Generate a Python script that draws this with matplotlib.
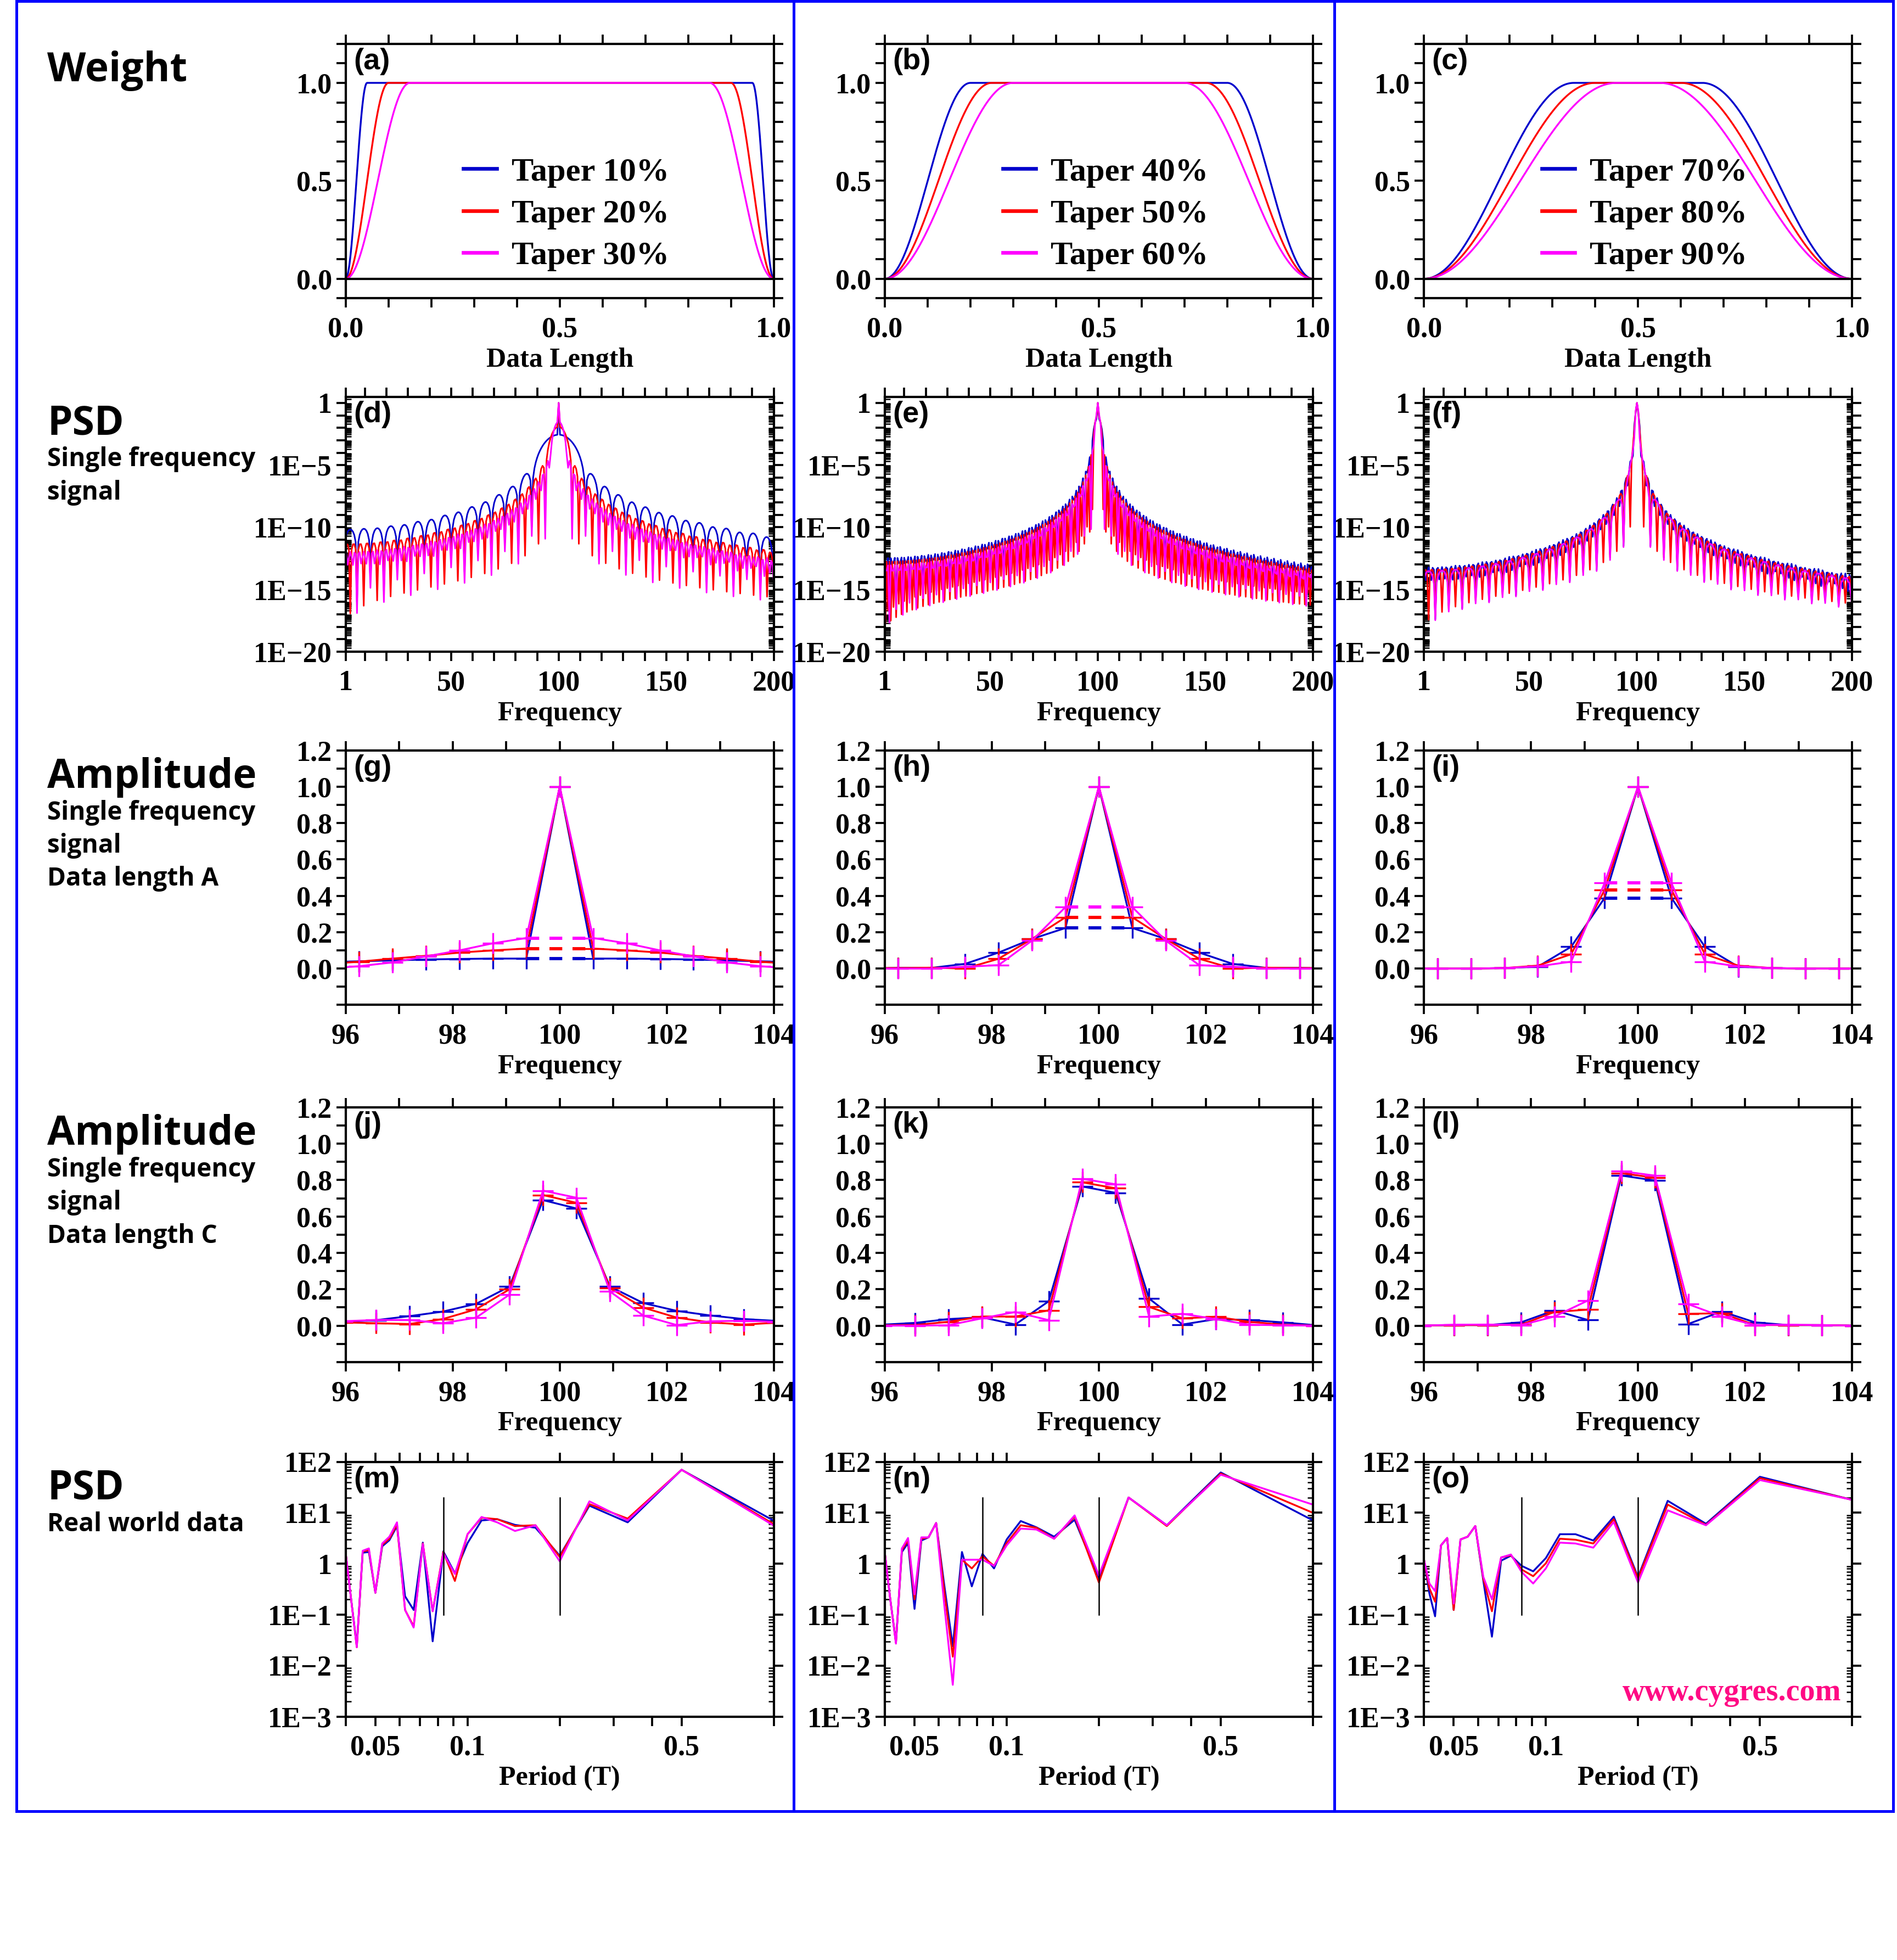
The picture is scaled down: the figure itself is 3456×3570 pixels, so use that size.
import numpy as np
import matplotlib.pyplot as plt
from matplotlib.lines import Line2D
from matplotlib.ticker import FixedLocator, NullLocator

plt.rcParams['font.family'] = ['Liberation Serif', 'DejaVu Serif']
plt.rcParams['font.weight'] = 'bold'
plt.rcParams['axes.labelweight'] = 'bold'
plt.rcParams['axes.linewidth'] = 1.0

# taper fractions per column and line colours
tapers = [[0.1, 0.2, 0.3], [0.4, 0.5, 0.6], [0.7, 0.8, 0.9]]
colors = ['#0000cc', '#ff0000', '#ff00ff']
panel_tags = ['abc', 'def', 'ghi', 'jkl', 'mno']

# single frequency test signal used for the PSD row
signal_freq = 100.0
sample_rate = 4000.0
record_len = 1.6

# amplitude spectra, data length A (bins of 0.625)
freq_a = [95.625, 96.25, 96.875, 97.5, 98.125, 98.75, 99.375, 100.0,
          100.625, 101.25, 101.875, 102.5, 103.125, 103.75, 104.375]
amp_g = [
    [0.035, 0.04, 0.045, 0.05, 0.053, 0.055, 0.055, 1.0, 0.055, 0.055, 0.053, 0.05, 0.045, 0.04, 0.035],
    [0.025, 0.038, 0.055, 0.07, 0.088, 0.10, 0.11, 1.0, 0.11, 0.10, 0.088, 0.07, 0.055, 0.038, 0.025],
    [0.0, 0.013, 0.034, 0.067, 0.10, 0.139, 0.168, 1.0, 0.168, 0.139, 0.10, 0.067, 0.034, 0.013, 0.0],
]
amp_h = [
    [0.0, 0.004, 0.004, 0.026, 0.088, 0.163, 0.223, 1.0, 0.223, 0.163, 0.088, 0.026, 0.004, 0.004, 0.0],
    [0.003, 0.003, 0.005, 0.0, 0.054, 0.163, 0.282, 1.0, 0.282, 0.163, 0.054, 0.0, 0.005, 0.003, 0.003],
    [0.0, 0.0, 0.0, 0.01, 0.019, 0.154, 0.338, 1.0, 0.338, 0.154, 0.019, 0.01, 0.0, 0.0, 0.0],
]
amp_i = [
    [0.0, 0.0, 0.0, 0.003, 0.01, 0.12, 0.388, 1.0, 0.388, 0.12, 0.01, 0.003, 0.0, 0.0, 0.0],
    [0.0, 0.0, 0.0, 0.003, 0.016, 0.079, 0.432, 1.0, 0.432, 0.079, 0.016, 0.003, 0.0, 0.0, 0.0],
    [0.0, 0.0, 0.0, 0.003, 0.012, 0.038, 0.47, 1.0, 0.47, 0.038, 0.012, 0.003, 0.0, 0.0, 0.0],
]
# level of the bins beside the peak (dashed)
side_g = [0.055, 0.11, 0.168]
side_h = [0.223, 0.282, 0.338]
side_i = [0.388, 0.432, 0.47]

# amplitude spectra, data length C
freq_c = [95.9375, 96.5625, 97.1875, 97.8125, 98.4375, 99.0625, 99.6875,
          100.3125, 100.9375, 101.5625, 102.1875, 102.8125, 103.4375, 104.0625]
amp_j = [
    [0.02, 0.03, 0.052, 0.077, 0.12, 0.215, 0.69, 0.644, 0.215, 0.124, 0.081, 0.056, 0.036, 0.026],
    [0.018, 0.013, 0.009, 0.036, 0.09, 0.2, 0.718, 0.675, 0.206, 0.099, 0.044, 0.018, 0.006, 0.016],
    [0.024, 0.031, 0.031, 0.013, 0.044, 0.171, 0.742, 0.703, 0.188, 0.055, 0.003, 0.024, 0.027, 0.021],
]
amp_k = [
    [0.005, 0.015, 0.036, 0.046, 0.006, 0.134, 0.765, 0.73, 0.149, 0.006, 0.036, 0.031, 0.018, 0.002],
    [0.002, 0.003, 0.021, 0.05, 0.05, 0.084, 0.788, 0.755, 0.103, 0.04, 0.049, 0.021, 0.005, 0.0],
    [0.0, 0.0, 0.002, 0.04, 0.075, 0.03, 0.807, 0.777, 0.05, 0.065, 0.036, 0.005, 0.002, 0.0],
]
amp_l = [
    [0.0, 0.003, 0.003, 0.018, 0.084, 0.031, 0.825, 0.798, 0.009, 0.078, 0.018, 0.003, 0.003, 0.0],
    [0.0, 0.003, 0.003, 0.005, 0.075, 0.088, 0.838, 0.813, 0.065, 0.068, 0.003, 0.003, 0.003, 0.0],
    [0.0, 0.005, 0.006, 0.003, 0.05, 0.138, 0.849, 0.825, 0.118, 0.05, 0.003, 0.005, 0.003, 0.0],
]

# real world data: harmonic number -> period 1/k
harmonic = [25, 24, 23, 22, 21, 20, 19, 18, 17, 16, 15, 14, 13,
            12, 11, 10, 9, 8, 7, 6, 5, 4, 3, 2, 1]
psd_m = [
    [1.6, 0.2, 0.025, 1.65, 1.7, 0.27, 2.2, 2.9, 5.5, 0.23, 0.124, 2.6, 0.03, 1.75, 0.65, 2.55, 7.1, 7.5, 5.8, 5.1, 1.44, 13.8, 6.5, 70, 7.0],
    [1.6, 0.2, 0.023, 1.75, 1.85, 0.27, 2.35, 3.1, 5.9, 0.124, 0.059, 2.5, 0.117, 1.7, 0.46, 3.8, 8.0, 7.5, 5.5, 5.7, 1.36, 14.8, 7.7, 70, 6.0],
    [1.6, 0.2, 0.023, 1.8, 2.0, 0.27, 2.5, 3.4, 6.5, 0.124, 0.056, 2.45, 0.117, 1.6, 0.63, 3.8, 8.3, 6.5, 4.4, 5.7, 1.12, 16.8, 7.1, 70, 5.6],
]
psd_n = [
    [1.6, 0.2, 0.029, 1.7, 2.55, 0.13, 2.86, 3.3, 6.3, 0.39, 0.024, 1.7, 0.36, 1.56, 0.81, 3.0, 6.9, 5.2, 3.4, 7.3, 0.52, 20, 5.7, 62, 7.1],
    [1.6, 0.2, 0.028, 1.85, 2.9, 0.2, 3.1, 3.3, 6.3, 0.3, 0.015, 1.2, 0.81, 1.4, 0.91, 2.55, 5.7, 5.1, 3.1, 8.4, 0.43, 20, 5.5, 59, 10],
    [1.6, 0.2, 0.027, 2.0, 3.2, 0.25, 3.3, 3.3, 6.3, 0.16, 0.0042, 1.2, 1.2, 1.2, 0.91, 2.3, 4.9, 4.7, 3.1, 8.9, 0.59, 20, 5.7, 56, 14.5],
]
psd_o = [
    [1.2, 0.26, 0.093, 2.3, 3.2, 0.124, 3.0, 3.4, 5.5, 0.46, 0.037, 1.15, 1.44, 0.91, 0.71, 1.29, 3.8, 3.8, 2.86, 8.4, 0.55, 17.2, 6.1, 51, 18],
    [1.2, 0.33, 0.18, 2.3, 3.2, 0.124, 3.0, 3.4, 5.5, 0.5, 0.117, 1.33, 1.47, 0.77, 0.57, 1.02, 3.1, 2.96, 2.5, 7.5, 0.52, 14.5, 5.8, 48, 18],
    [1.2, 0.41, 0.29, 2.3, 3.2, 0.165, 3.0, 3.4, 5.5, 0.55, 0.2, 1.33, 1.52, 0.69, 0.41, 0.81, 2.6, 2.5, 2.07, 6.6, 0.43, 11.2, 5.7, 44, 18],
]
marker_harmonics = [12, 5]
marker_range = [0.1, 20]

row_titles = [
    ['Weight'],
    ['PSD', 'Single frequency', 'signal'],
    ['Amplitude', 'Single frequency', 'signal', 'Data length A'],
    ['Amplitude', 'Single frequency', 'signal', 'Data length C'],
    ['PSD', 'Real world data'],
]


def tukey(n, alpha):
    x = np.linspace(0, 1, n)
    w = np.ones(n)
    edge = alpha / 2
    lo = x < edge
    hi = x > 1 - edge
    w[lo] = 0.5 * (1 - np.cos(np.pi * x[lo] / edge))
    w[hi] = 0.5 * (1 - np.cos(np.pi * (1 - x[hi]) / edge))
    return w


def base_style(ax):
    ax.tick_params(which='major', direction='out', length=4, width=0.9,
                   top=True, right=True, labelsize=12.5)
    ax.tick_params(axis='x', pad=4)
    ax.tick_params(axis='y', pad=2)


def set_ticks(ax, axis, ticks, labelled, fmt):
    labels = [fmt(v) if any(np.isclose(v, u, rtol=1e-6, atol=0) for u in labelled) else ''
              for v in ticks]
    if axis == 'x':
        ax.set_xticks(ticks, labels)
    else:
        ax.set_yticks(ticks, labels)


def log_label(v):
    e = int(round(np.log10(v)))
    if e == 0:
        return '1'
    return '1E' + str(e).replace('-', '\u2212')


def log_minor(ax, lo, hi):
    minor = [m * 10.0 ** e for e in range(lo, hi) for m in range(2, 10)]
    ax.yaxis.set_minor_locator(FixedLocator(minor))
    ax.tick_params(axis='y', which='minor', direction='in', length=2.5,
                   width=0.6, left=True, right=True)


# figure layout (display-scale pixels of a 1520 x 1570 canvas)
W, H = 1520.0, 1570.0
col_left = [277, 709, 1141]
row_top = [35, 318, 601, 887, 1171]
ax_w, ax_h = 343, 204

fig = plt.figure(figsize=(11.52, 11.9), dpi=300)

n = int(sample_rate * record_len)
t = np.arange(n) / sample_rate
sig = np.sin(2 * np.pi * signal_freq * t)
freqs = np.fft.rfftfreq(n, 1 / sample_rate)
keep = (freqs > 0) & (freqs <= 200.5)
xw = np.linspace(0, 1, 800)

amp_a_sets = [amp_g, amp_h, amp_i]
side_sets = [side_g, side_h, side_i]
amp_c_sets = [amp_j, amp_k, amp_l]
psd_sets = [psd_m, psd_n, psd_o]
period = 1.0 / np.array(harmonic, dtype=float)

for r in range(5):
    for c in range(3):
        ax = fig.add_axes([col_left[c] / W, 1 - (row_top[r] + ax_h) / H, ax_w / W, ax_h / H])
        base_style(ax)
        if r == 0:
            handles = []
            for a, col in zip(tapers[c], colors):
                ax.plot(xw, tukey(len(xw), a), color=col, lw=0.8)
                handles.append(Line2D([], [], color=col, lw=1.6))
            ax.axhline(0, color='black', lw=1.0)
            ax.set_xlim(0, 1)
            ax.set_ylim(-0.1, 1.2)
            set_ticks(ax, 'x', np.round(np.arange(0, 1.01, 0.1), 2), [0, 0.5, 1], lambda v: f'{v:.1f}')
            set_ticks(ax, 'y', np.round(np.arange(-0.1, 1.21, 0.1), 2), [0, 0.5, 1], lambda v: f'{v:.1f}')
            ax.set_xlabel('Data Length', fontsize=12, labelpad=2)
            ax.legend(handles, [f'Taper {round(a * 100)}%' for a in tapers[c]],
                      loc='center left', bbox_to_anchor=(0.275, 0.33), frameon=False,
                      fontsize=14.5, handlelength=1.0, handletextpad=0.45,
                      labelspacing=0.35, borderaxespad=0, borderpad=0)
        elif r == 1:
            for a, col in zip(tapers[c], colors):
                spec = np.abs(np.fft.rfft(sig * tukey(n, a))) ** 2
                spec = spec / spec.max()
                ax.plot(freqs[keep], spec[keep], color=col, lw=0.7)
            ax.set_yscale('log')
            ax.set_xlim(1, 200)
            ax.set_ylim(1e-20, 3)
            set_ticks(ax, 'x', [1] + list(range(10, 201, 10)), [1, 50, 100, 150, 200], lambda v: f'{v:g}')
            set_ticks(ax, 'y', [10.0 ** e for e in range(-20, 1)],
                      [10.0 ** e for e in range(-20, 1, 5)], log_label)
            log_minor(ax, -20, 1)
            ax.set_xlabel('Frequency', fontsize=12, labelpad=2)
        elif r in (2, 3):
            if r == 2:
                fx, sets = freq_a, amp_a_sets[c]
            else:
                fx, sets = freq_c, amp_c_sets[c]
            for vals, col in zip(sets, colors):
                ax.plot(fx, vals, color=col, lw=0.8, marker='+', ms=9, mew=0.8)
            if r == 2:
                for lev, col in zip(side_sets[c], colors):
                    ax.plot([fx[6], fx[8]], [lev, lev], color=col, lw=1.4, ls=(0, (4, 3.2)))
            ax.set_xlim(96, 104)
            ax.set_ylim(-0.2, 1.2)
            set_ticks(ax, 'x', list(range(96, 105)), [96, 98, 100, 102, 104], lambda v: f'{v:g}')
            set_ticks(ax, 'y', np.round(np.arange(-0.2, 1.21, 0.1), 2),
                      [0, 0.2, 0.4, 0.6, 0.8, 1.0, 1.2], lambda v: f'{v:.1f}')
            ax.set_xlabel('Frequency', fontsize=12, labelpad=2)
        else:
            for vals, col in zip(psd_sets[c], colors):
                ax.plot(period, vals, color=col, lw=0.8)
            for k in marker_harmonics:
                ax.plot([1.0 / k, 1.0 / k], marker_range, color='black', lw=0.6)
            ax.set_xscale('log')
            ax.set_yscale('log')
            ax.set_xlim(0.04, 1.0)
            ax.set_ylim(1e-3, 1e2)
            ax.xaxis.set_minor_locator(NullLocator())
            set_ticks(ax, 'x', [0.04, 0.05, 0.06, 0.07, 0.08, 0.09, 0.1, 0.2, 0.3, 0.4, 0.5, 1.0],
                      [0.05, 0.1, 0.5], lambda v: f'{v:g}')
            set_ticks(ax, 'y', [10.0 ** e for e in range(-3, 3)],
                      [10.0 ** e for e in range(-3, 3)], log_label)
            log_minor(ax, -3, 2)
            ax.set_xlabel('Period (T)', fontsize=12, labelpad=2)
            if c == 2:
                ax.text(0.975, 0.095, 'www.cygres.com', transform=ax.transAxes, ha='right',
                        va='center', fontsize=13.5, color='#ff0a84')
        ax.text(0.018, 0.985, f'({panel_tags[r][c]})', transform=ax.transAxes, ha='left',
                va='top', fontsize=13, family=['Liberation Sans', 'DejaVu Sans'], weight='bold')

# row titles on the left
for r, lines in enumerate(row_titles):
    offs = [30, 55.5, 82, 108.5]
    for i, s in enumerate(lines):
        fig.text(38 / W, 1 - (row_top[r] + offs[i]) / H, s, va='baseline', ha='left',
                 fontsize=17.5 if i == 0 else 11, family=['Open Sans', 'Lato', 'DejaVu Sans'],
                 weight='bold', color='black')

# blue frame around the three columns
frame = dict(color='#0000ff', lw=1.2, transform=fig.transFigure)
x0, x1, y0, y1 = 13 / W, 1517 / W, 1 - 1451 / H, 1 - 1 / H
for xs, ys in [([x0, x1], [y1, y1]), ([x0, x1], [y0, y0]), ([x0, x0], [y0, y1]),
               ([x1, x1], [y0, y1]), ([636 / W, 636 / W], [y0, y1]),
               ([1069 / W, 1069 / W], [y0, y1])]:
    fig.add_artist(Line2D(xs, ys, **frame))

fig.savefig('out.png', dpi=300)
